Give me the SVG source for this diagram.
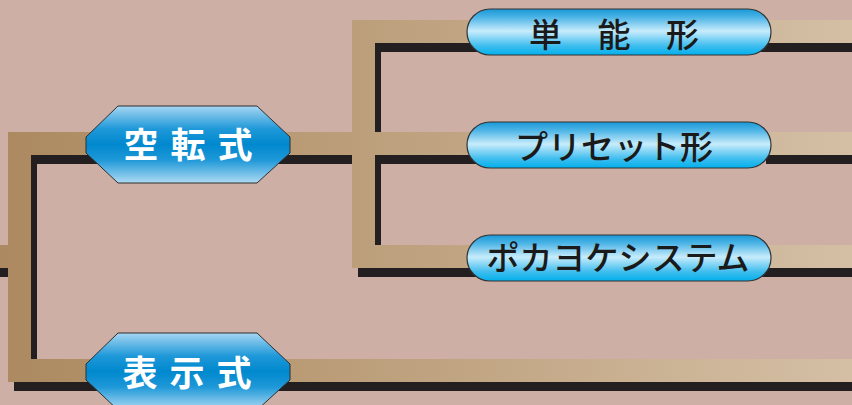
<svg xmlns="http://www.w3.org/2000/svg" width="852" height="405" viewBox="0 0 852 405">
  <defs>
    <linearGradient id="tan" gradientUnits="userSpaceOnUse" x1="0" y1="0" x2="852" y2="0">
      <stop offset="0" stop-color="#AC8960"/>
      <stop offset="0.45" stop-color="#BDA07C"/>
      <stop offset="1" stop-color="#D4BFA5"/>
    </linearGradient>
    <linearGradient id="pillGrad" x1="0" y1="0" x2="0" y2="1">
      <stop offset="0" stop-color="#1A98D6"/>
      <stop offset="0.18" stop-color="#4CB4E6"/>
      <stop offset="0.48" stop-color="#C8ECFB"/>
      <stop offset="0.8" stop-color="#3EBDEE"/>
      <stop offset="1" stop-color="#02B0EC"/>
    </linearGradient>
    <linearGradient id="hexGrad" x1="0" y1="0" x2="0" y2="1">
      <stop offset="0" stop-color="#A6D6F3"/>
      <stop offset="0.3" stop-color="#1E98D8"/>
      <stop offset="0.5" stop-color="#0088CE"/>
      <stop offset="0.7" stop-color="#1E98D8"/>
      <stop offset="1" stop-color="#AEDAF3"/>
    </linearGradient>
    <g id="bars">
      <rect x="-20" y="245" width="40" height="23"/>
      <rect x="8" y="132" width="23" height="250"/>
      <rect x="8" y="132" width="470" height="23"/>
      <rect x="352" y="20" width="23" height="248"/>
      <rect x="352" y="20" width="520" height="23"/>
      <rect x="352" y="245" width="520" height="23"/>
      <rect x="760" y="132" width="112" height="23"/>
      <rect x="8" y="359" width="864" height="23"/>
    </g>
  </defs>
  <style>
    .hex { fill: url(#hexGrad); stroke: #2E2E2E; stroke-width: 1; }
    .pill { fill: url(#pillGrad); stroke: #333333; stroke-width: 1.2; }
    .hexText { font-family: "Noto Sans CJK JP", "Noto Sans", sans-serif; font-weight: 700; font-size: 35px; fill: #FFFFFF; text-anchor: middle; }
    .pillText { font-family: "Noto Sans CJK JP", "Noto Sans", sans-serif; font-weight: 500; font-size: 33px; fill: #1A1A1A; text-anchor: middle; }
  </style>
  <rect x="0" y="0" width="852" height="405" fill="#CDAFA5"/>

  <g id="connectors">
    <use href="#bars" transform="translate(6,9)" fill="#231F20"/>
    <use href="#bars" fill="url(#tan)"/>
  </g>

  <g id="node-kutenshiki">
    <polygon class="hex" points="118,106 257,106 290,137 290,153 257,183 118,183 86,153 86,137"/>
    <text class="hexText" x="188" y="158" word-spacing="4">空 転 式</text>
  </g>

  <g id="node-hyojishiki">
    <polygon class="hex" points="118,333 257,333 290,364 290,380 257,410 118,410 86,380 86,364"/>
    <text class="hexText" x="187" y="386" word-spacing="4">表 示 式</text>
  </g>

  <g id="node-tannokei">
    <rect class="pill" x="467" y="9" width="304" height="46" rx="23" ry="23"/>
    <text class="pillText" x="614" y="47" font-size="34" word-spacing="28">単 能 形</text>
  </g>

  <g id="node-presetkei">
    <rect class="pill" x="467" y="122" width="304" height="46" rx="23" ry="23"/>
    <text class="pillText" x="614" y="159" font-size="34">プリセット形</text>
  </g>

  <g id="node-pokayoke">
    <rect class="pill" x="467" y="235" width="304" height="46" rx="23" ry="23"/>
    <text class="pillText" x="618" y="270" font-size="32.5">ポカヨケシステム</text>
  </g>
</svg>
